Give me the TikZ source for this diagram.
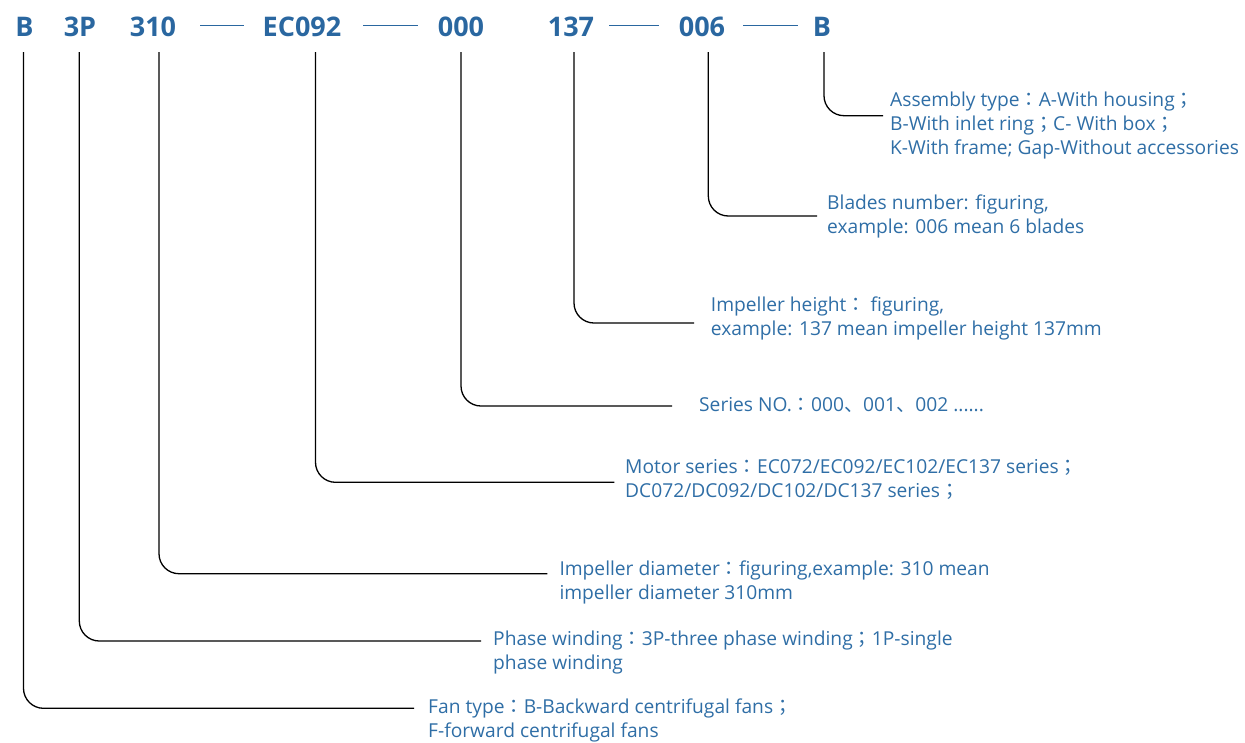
\documentclass[tikz,border=0pt]{standalone}
\usepackage{fontspec}
\setmainfont{Open Sans}
\newfontfamily\cjk{Noto Sans CJK JP}
\definecolor{tblue}{HTML}{2A67A0}
\definecolor{dblue}{HTML}{2F6EA6}
\newcommand{\fcolon}{{\cjk ：}}
\newcommand{\fsemi}{{\cjk ；}}
\newcommand{\fcomma}{{\cjk 、}}
\begin{document}
\begin{tikzpicture}[x=1pt,y=-1pt,
  title/.style={font=\bfseries\fontsize{27}{30}\selectfont, text=tblue, inner sep=0pt, anchor=base},
  desc/.style={font=\fontsize{19.2}{24}\selectfont, text=dblue, align=left, anchor=base west, inner sep=0pt},
  conn/.style={draw=black, line width=1.3pt, rounded corners=20pt},
  dashl/.style={draw=tblue, line width=1pt}]
\useasboundingbox (0,0) rectangle (1245,742);
% title codes
\node[title] (t1) at (24.5,36) {B};
\node[title] (t2) at (80,36) {3P};
\node[title] (t3) at (153,36) {310};
\node[title] (t4) at (302,36) {EC092};
\node[title] (t5) at (461,36) {000};
\node[title] (t6) at (571,36) {137};
\node[title] (t7) at (702,36) {006};
\node[title] (t8) at (822,36) {B};
% dashes
\coordinate (a1) at (200,25); \coordinate (a2) at (244,25);
\coordinate (b1) at (363,25); \coordinate (b2) at (418,25);
\coordinate (c1) at (609,25); \coordinate (c2) at (659,25);
\coordinate (e1) at (743,25); \coordinate (e2) at (798,25);
\draw[dashl] (a1) -- (a2);
\draw[dashl] (b1) -- (b2);
\draw[dashl] (c1) -- (c2);
\draw[dashl] (e1) -- (e2);
% descriptions (base anchor = baseline of last line)
\node[desc] (d8) at (890,154.7) {Assembly type\fcolon A-With housing\fsemi\\B-With inlet ring\fsemi C- With box\fsemi\\K-With frame; Gap-Without accessories};
\node[desc] (d7) at (827,233.3) {Blades number: figuring,\\example: 006 mean 6 blades};
\node[desc] (d6) at (710.7,335.7) {Impeller height\fcolon\ figuring,\\example: 137 mean impeller height 137mm};
\node[desc] (d5) at (699,411.7) {Series NO.\fcolon 000\fcomma 001\fcomma 002 ......};
\node[desc] (d4) at (625,497.3) {Motor series\fcolon EC072/EC092/EC102/EC137 series\fsemi\\DC072/DC092/DC102/DC137 series\fsemi};
\node[desc] (d3) at (559.3,599) {Impeller diameter\fcolon figuring,example: 310 mean\\impeller diameter 310mm};
\node[desc] (d2) at (493,669) {Phase winding\fcolon 3P-three phase winding\fsemi 1P-single\\phase winding};
\node[desc] (d1) at (428,737) {Fan type\fcolon B-Backward centrifugal fans\fsemi\\F-forward centrifugal fans};
% connector ends
\coordinate (s1) at (23.5,52);  \coordinate (f1) at (414,708.3);
\coordinate (s2) at (79.3,52);  \coordinate (f2) at (481,641);
\coordinate (s3) at (159,52);   \coordinate (f3) at (547.3,573.7);
\coordinate (s4) at (315.5,52); \coordinate (f4) at (614.3,482.3);
\coordinate (s5) at (461,52);   \coordinate (f5) at (672,406);
\coordinate (s6) at (574,52);   \coordinate (f6) at (694,323);
\coordinate (s7) at (708.3,52); \coordinate (f7) at (817,216);
\coordinate (s8) at (824,52);   \coordinate (f8) at (883,115.7);
\draw[conn] (s1) |- (f1);
\draw[conn] (s2) |- (f2);
\draw[conn] (s3) |- (f3);
\draw[conn] (s4) |- (f4);
\draw[conn] (s5) |- (f5);
\draw[conn] (s6) |- (f6);
\draw[conn] (s7) |- (f7);
\draw[conn] (s8) |- (f8);
\end{tikzpicture}
\end{document}
